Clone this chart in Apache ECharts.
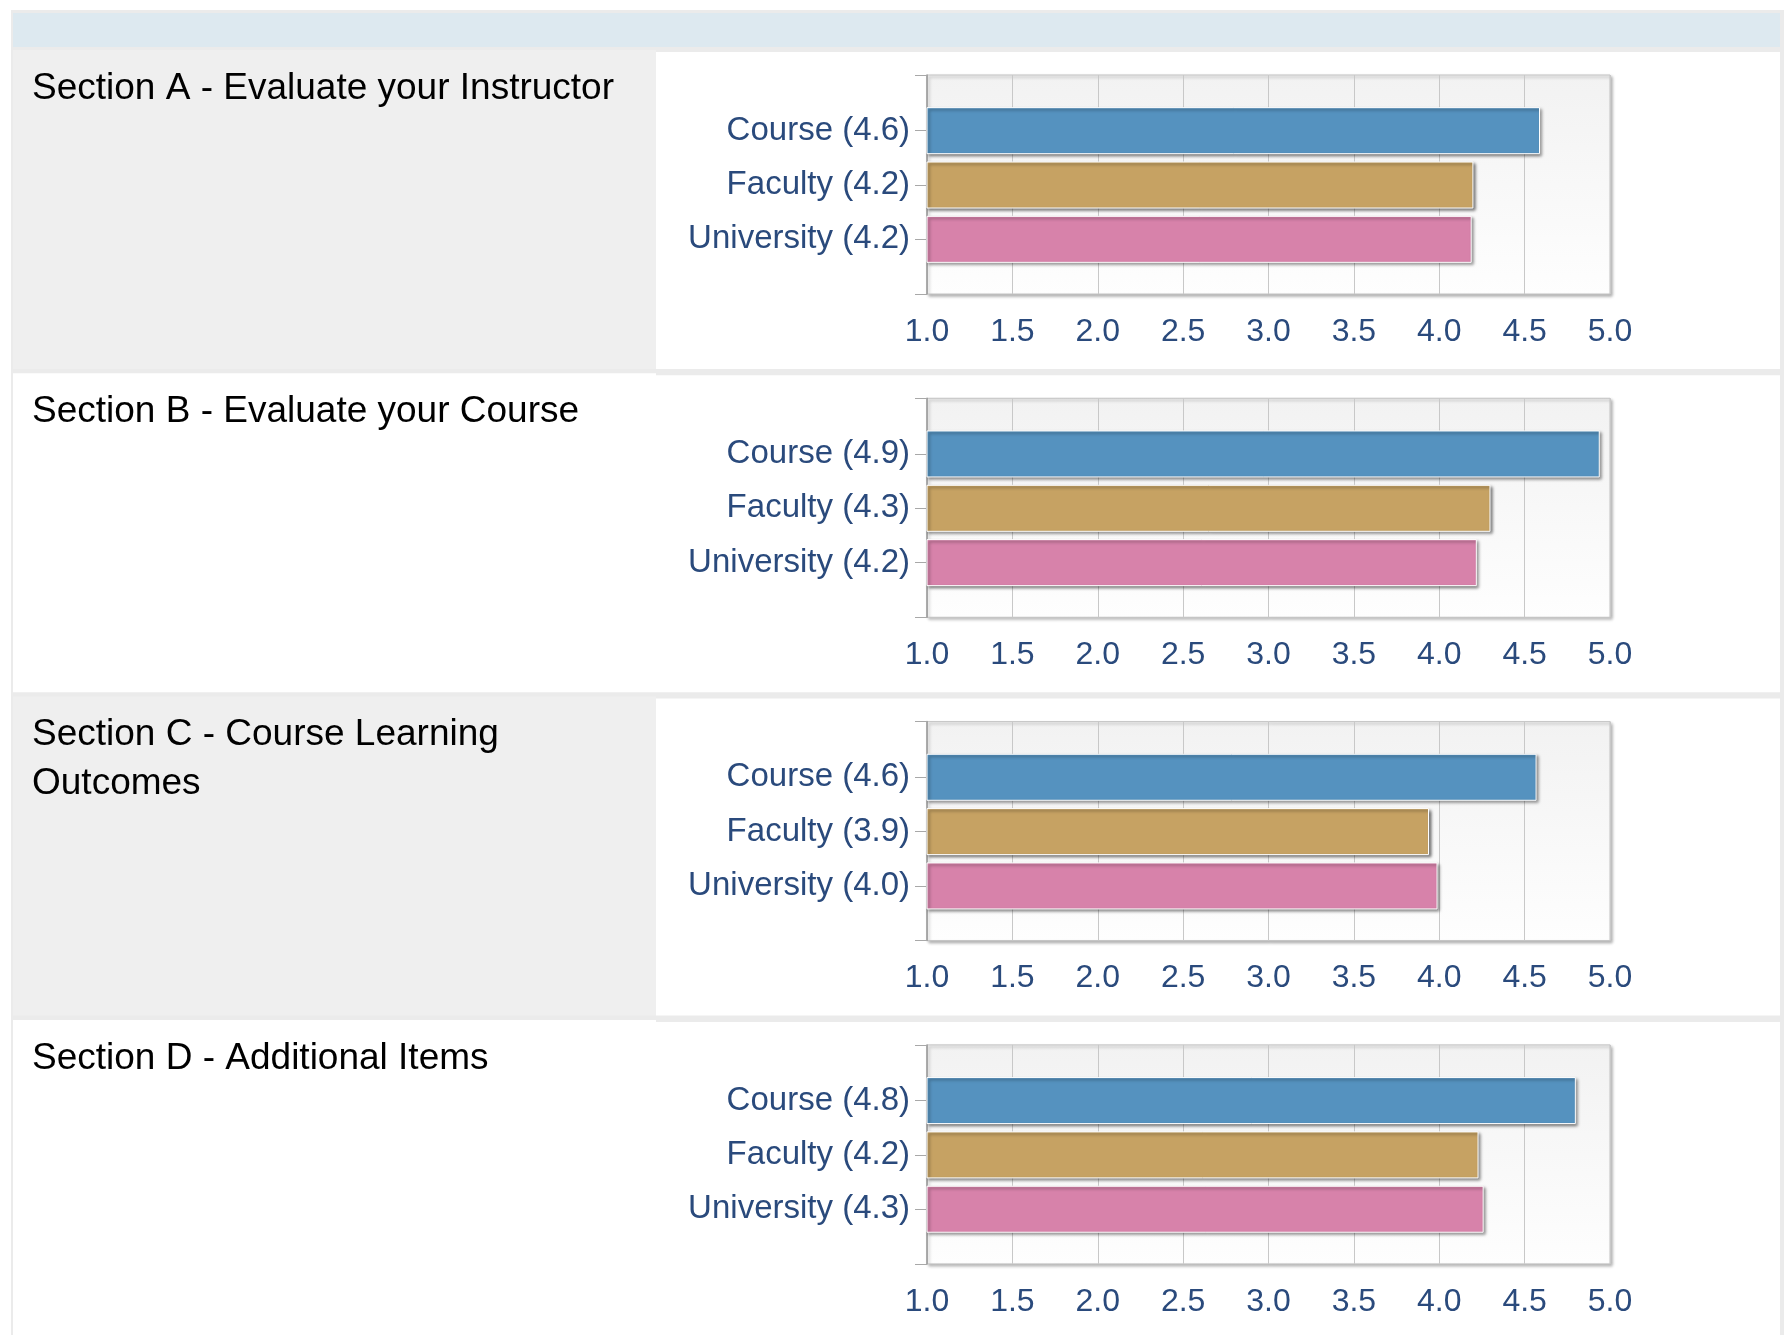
<!DOCTYPE html>
<html lang="en">
<head>
<meta charset="UTF-8">
<title>Course evaluation</title>
<style>
  body { margin: 0; background: #fff; }
  #main { width: 1789px; height: 1335px; }
</style>
</head>
<body>
<div id="main"></div>
<script src="https://cdn.jsdelivr.net/npm/echarts@6/dist/echarts.min.js"></script>
<script>
// data
var sections = ['Section A - Evaluate your Instructor', 'Section B - Evaluate your Course', 'Section C - Course Learning\nOutcomes', 'Section D - Additional Items'];
var groups = ['Course', 'Faculty', 'University'];
var courseScores = [4.59, 4.94, 4.57, 4.80];
var facultyScores = [4.20, 4.30, 3.94, 4.23];
var universityScores = [4.19, 4.22, 3.99, 4.26];
var scaleMin = 1, scaleMax = 5, scaleStep = 0.5;

var groupColors = ['#5592bf', '#c6a263', '#d782aa'];
var labelColor = '#2a4a7c';
var font = 'Liberation Sans, Arial, sans-serif';

var myChart = echarts.init(document.getElementById('main'));

var rowStep = 323.3, rowTop0 = 50, rowH = 319;
var plotLeft = 927, plotW = 683;

var graphics = [
  { type: 'rect', z: -10, shape: { x: 11, y: 10, width: 1773, height: 1330 }, style: { fill: '#ebebeb' } },
  { type: 'rect', z: -9, shape: { x: 13, y: 13, width: 1767, height: 34 }, style: { fill: '#dde9f0' } }
];
var grids = [], xAxes = [], yAxes = [], series = [];

sections.forEach(function (title, i) {
  var top = rowTop0 + rowStep * i;
  var scores = [courseScores[i], facultyScores[i], universityScores[i]];

  // table cells
  graphics.push({ type: 'rect', z: -9, shape: { x: 13, y: top, width: 643, height: rowH },
    style: { fill: i % 2 === 0 ? '#efefef' : '#ffffff' } });
  graphics.push({ type: 'rect', z: -9, shape: { x: 656, y: top + 2, width: 1124, height: rowH - 2 },
    style: { fill: '#ffffff' } });
  graphics.push({ type: 'text', z: 5, x: 32, y: top + 14,
    style: { text: title, fill: '#000', font: '37px ' + font, verticalAlign: 'top', lineHeight: 49 } });

  // plot area (background, grid lines, value axis)
  grids.push({
    left: plotLeft, top: top + 25, width: plotW, height: 219,
    show: true,
    backgroundColor: { type: 'linear', x: 0, y: 0, x2: 0, y2: 1,
      colorStops: [{ offset: 0, color: '#f2f2f2' }, { offset: 1, color: '#fefefe' }] },
    borderColor: '#c4c4c4', borderWidth: 1,
    shadowColor: 'rgba(0,0,0,0.3)', shadowBlur: 3, shadowOffsetX: 2, shadowOffsetY: 2
  });
  // bar band
  grids.push({ left: plotLeft, top: top + 53.5, width: plotW, height: 163 });

  xAxes.push({
    type: 'value', gridIndex: 2 * i, min: scaleMin, max: scaleMax, interval: scaleStep,
    axisLine: { show: false }, axisTick: { show: false },
    splitLine: { show: true, lineStyle: { color: '#c8c8c8', width: 1 } },
    axisLabel: { fontSize: 32, fontFamily: font, color: labelColor, margin: 22,
      formatter: function (v) { return v.toFixed(1); } }
  });
  xAxes.push({ type: 'value', gridIndex: 2 * i + 1, min: scaleMin, max: scaleMax, show: false });

  yAxes.push({
    type: 'value', gridIndex: 2 * i, min: 0, max: 1, interval: 1,
    axisLine: { show: true, lineStyle: { color: '#9a9a9a', width: 1.5 } },
    axisTick: { show: true, length: 12, lineStyle: { color: '#a8a8a8' } },
    axisLabel: { show: false }, splitLine: { show: false }
  });
  yAxes.push({
    type: 'category', gridIndex: 2 * i + 1, inverse: true,
    data: groups.map(function (g, k) { return g + ' (' + scores[k].toFixed(1) + ')'; }),
    axisLine: { show: false },
    axisTick: { show: true, alignWithLabel: true, length: 12, lineStyle: { color: '#a8a8a8' } },
    axisLabel: { fontSize: 33, fontFamily: font, color: labelColor, margin: 17 }
  });

  series.push({
    type: 'bar', xAxisIndex: 2 * i + 1, yAxisIndex: 2 * i + 1,
    barWidth: 47,
    data: scores.map(function (v, k) {
      return { value: v, itemStyle: { color: groupColors[k] } };
    }),
    itemStyle: { borderColor: '#ffffff', borderWidth: 1,
      shadowColor: 'rgba(0,0,0,0.5)', shadowBlur: 3, shadowOffsetX: 2, shadowOffsetY: 2 },
    silent: true, animation: false
  });
});

var option = {
  animation: false,
  graphic: graphics,
  grid: grids,
  xAxis: xAxes,
  yAxis: yAxes,
  series: series
};
myChart.setOption(option);
</script>
</body>
</html>
